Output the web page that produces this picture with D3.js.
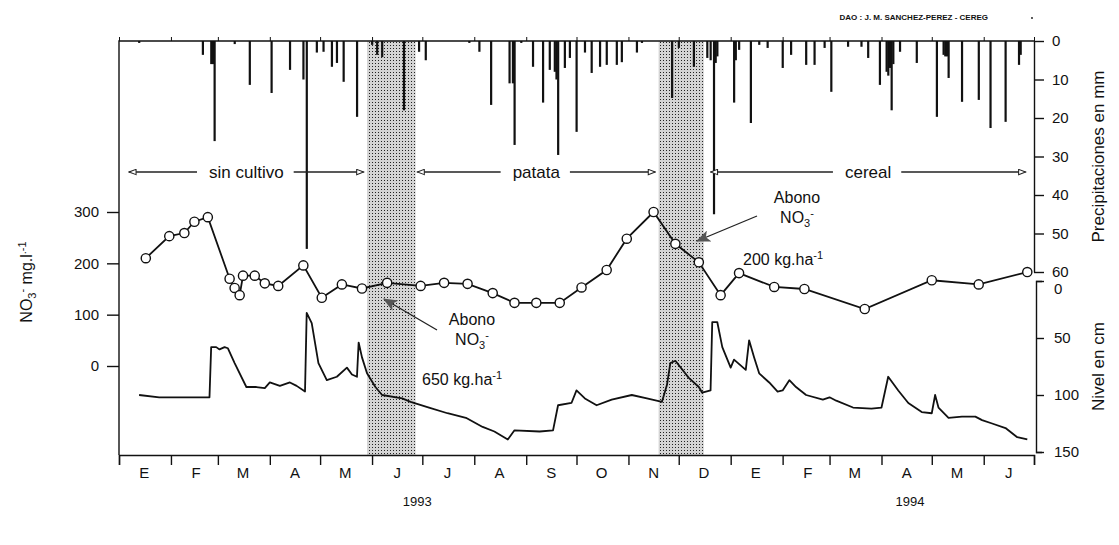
<!DOCTYPE html>
<html>
<head>
<meta charset="utf-8">
<script src="https://cdn.jsdelivr.net/npm/d3@7"></script>
<style>
  body { margin: 0; background: #fff; }
  svg { display: block; }
  text { font-family: "Liberation Sans", Arial, sans-serif; fill: #111; }
</style>
</head>
<body>
<div id="chart"></div>
<script>
// values
const monthLabels = ["E", "F", "M", "A", "M", "J", "J", "A", "S", "O", "N", "D", "E", "F", "M", "A", "M", "J"];
const yearLabels = ["1993", "1994"];

const rainDates = ["1993-01-13", "1993-02-20", "1993-02-25", "1993-02-26", "1993-02-27", "1993-03-11", "1993-03-20",
  "1993-04-02", "1993-04-13", "1993-04-21", "1993-04-23", "1993-04-29", "1993-05-03", "1993-05-08", "1993-05-11",
  "1993-05-15", "1993-05-23", "1993-06-01", "1993-06-04", "1993-06-07", "1993-06-20", "1993-06-29", "1993-07-03",
  "1993-07-29", "1993-08-04", "1993-08-11", "1993-08-22", "1993-08-24", "1993-08-25", "1993-08-29", "1993-09-05",
  "1993-09-11", "1993-09-15", "1993-09-18", "1993-09-19", "1993-09-20", "1993-09-24", "1993-09-27", "1993-10-01",
  "1993-10-06", "1993-10-10", "1993-10-15", "1993-10-19", "1993-10-25", "1993-10-28", "1993-11-06", "1993-11-09",
  "1993-11-27", "1993-12-01", "1993-12-10", "1993-12-18", "1993-12-20", "1993-12-22", "1993-12-23", "1993-12-24",
  "1994-01-03", "1994-01-04", "1994-01-06", "1994-01-13", "1994-01-18", "1994-01-23", "1994-02-01", "1994-02-06",
  "1994-02-15", "1994-02-20", "1994-02-26", "1994-03-02", "1994-03-12", "1994-03-20", "1994-03-24", "1994-03-31",
  "1994-04-04", "1994-04-05", "1994-04-06", "1994-04-07", "1994-04-08", "1994-04-12", "1994-04-22", "1994-05-04",
  "1994-05-08", "1994-05-09", "1994-05-10", "1994-05-11", "1994-05-19", "1994-05-29", "1994-06-05", "1994-06-14",
  "1994-06-22", "1994-06-23"];
const rainMm = [0.5, 3.6, 6, 6, 26, 0.8, 11.4,
  13.5, 7.5, 10, 54, 3, 2.8, 6.7, 5.7,
  10.6, 19.7, 1, 3.6, 4.2, 18, 2.8, 5,
  0.5, 2.8, 16.6, 11, 11, 27, 0.5, 6.7,
  16, 7.5, 8, 10, 29.6, 7, 4.4, 23.6,
  3, 8.3, 6.7, 6.2, 6.2, 5.5, 3, 0.5,
  14.8, 1.8, 6.7, 4.4, 5, 45, 5.7, 4,
  16, 5, 2.3, 21.3, 1, 1.8, 7, 3.6,
  6.2, 6.2, 1.8, 13.2, 1.5, 1.5, 4.4, 11.4,
  8, 9, 7, 18, 6, 2.8, 5.7, 19.7,
  3.6, 4, 4, 9.6, 15.8, 15.3, 22.6, 21,
  6.2, 3.6];

const no3Dates = ["1993-01-17", "1993-01-31", "1993-02-09", "1993-02-15", "1993-02-23", "1993-03-08", "1993-03-11",
  "1993-03-14", "1993-03-16", "1993-03-23", "1993-03-29", "1993-04-06", "1993-04-21", "1993-05-02", "1993-05-14",
  "1993-05-26", "1993-06-10", "1993-06-30", "1993-07-14", "1993-07-28", "1993-08-12", "1993-08-25", "1993-09-07",
  "1993-09-21", "1993-10-04", "1993-10-19", "1993-10-31", "1993-11-16", "1993-11-29", "1993-12-13", "1993-12-26",
  "1994-01-06", "1994-01-27", "1994-02-14", "1994-03-22", "1994-05-01", "1994-05-29", "1994-06-27"];
const no3Values = [210, 253, 259, 281, 290, 170, 152,
  138, 176, 176, 161, 156, 196, 133, 159,
  151, 162, 156, 162, 160, 142, 123, 123,
  123, 153, 187, 248, 300, 238, 202, 138,
  181, 154, 150, 111, 167, 159, 183];

const levelDates = ["1993-01-13", "1993-01-25", "1993-02-24", "1993-02-25", "1993-02-28", "1993-03-02", "1993-03-05",
  "1993-03-07", "1993-03-11", "1993-03-18", "1993-03-24", "1993-03-29", "1993-04-01", "1993-04-07", "1993-04-13",
  "1993-04-17", "1993-04-22", "1993-04-23", "1993-04-26", "1993-04-30", "1993-05-05", "1993-05-11", "1993-05-17",
  "1993-05-20", "1993-05-23", "1993-05-24", "1993-05-26", "1993-05-29", "1993-06-03", "1993-06-07", "1993-06-19",
  "1993-06-24", "1993-07-05", "1993-07-16", "1993-07-27", "1993-08-06", "1993-08-13", "1993-08-21", "1993-08-25",
  "1993-09-09", "1993-09-17", "1993-09-20", "1993-09-28", "1993-10-01", "1993-10-06", "1993-10-13", "1993-10-22",
  "1993-11-03", "1993-11-12", "1993-11-21", "1993-11-24", "1993-11-26", "1993-11-29", "1993-12-07", "1993-12-13",
  "1993-12-15", "1993-12-20", "1993-12-21", "1993-12-24", "1993-12-27", "1994-01-01", "1994-01-03", "1994-01-10",
  "1994-01-12", "1994-01-15", "1994-01-18", "1994-01-24", "1994-01-29", "1994-02-01", "1994-02-05", "1994-02-09",
  "1994-02-15", "1994-02-25", "1994-03-01", "1994-03-05", "1994-03-15", "1994-03-26", "1994-04-01", "1994-04-05",
  "1994-04-11", "1994-04-17", "1994-04-25", "1994-05-01", "1994-05-03", "1994-05-05", "1994-05-11", "1994-05-19",
  "1994-05-27", "1994-05-31", "1994-06-06", "1994-06-14", "1994-06-21", "1994-06-27"];
const levelCm = [100, 102, 102, 58, 58, 60, 58,
  59, 72, 93, 93, 94, 89, 92, 89,
  92, 97, 28, 37, 72, 87, 84, 76,
  82, 84, 54, 67, 81, 93, 100, 103,
  106, 111, 116, 120, 128, 132, 139, 131,
  132, 131, 109, 107, 96, 103, 109, 104,
  100, 103, 106, 91, 72, 70, 85, 93,
  98, 96, 36, 36, 58, 76, 69, 78,
  52, 67, 81, 89, 97, 96, 87, 93,
  100, 104, 102, 105, 111, 112, 111, 84,
  96, 107, 115, 116, 100, 111, 120, 119,
  119, 122, 125, 129, 137, 139];

// fertiliser periods (stippled) and crop periods
const bandStart = ["1993-05-29", "1993-11-19"];
const bandEnd = ["1993-06-27", "1993-12-16"];
const cropNames = ["sin cultivo", "patata", "cereal"];
const cropStart = ["1993-01-07", "1993-06-28", "1993-12-20"];
const cropEnd = ["1993-05-27", "1993-11-17", "1994-06-26"];

const W = 1119, H = 545;
const plotL = 119, plotR = 1034, plotT = 41, plotB = 455;
const parse = d3.timeParse("%Y-%m-%d");

const x = d3.scaleTime()
    .domain([new Date(1993, 0, 1), new Date(1994, 6, 1)])
    .range([plotL, plotR]);
const yRain = d3.scaleLinear().domain([0, 60]).range([plotT, 272]);
const yNo3 = d3.scaleLinear().domain([0, 300]).range([366, 212]);
const yLevel = d3.scaleLinear().domain([0, 150]).range([281, 452]);

const svg = d3.select("#chart")
    .append("svg")
    .attr("width", W)
    .attr("height", H);

svg.append("rect").attr("width", W).attr("height", H).attr("fill", "#fff");

const defs = svg.append("defs");
const pat = defs.append("pattern")
    .attr("id", "stipple")
    .attr("width", 3).attr("height", 3)
    .attr("patternUnits", "userSpaceOnUse");
pat.append("rect").attr("width", 3).attr("height", 3).attr("fill", "#d4d4d4");
pat.append("rect").attr("width", 1).attr("height", 1).attr("fill", "#222");

defs.append("marker")
    .attr("id", "openHead")
    .attr("viewBox", "0 0 10 8")
    .attr("refX", 9).attr("refY", 4)
    .attr("markerWidth", 9).attr("markerHeight", 7)
    .attr("markerUnits", "userSpaceOnUse")
    .attr("orient", "auto")
    .append("path")
    .attr("d", "M1,1L9,4L1,7Z")
    .attr("fill", "#fff")
    .attr("stroke", "#222")
    .attr("stroke-width", 1.2);

defs.append("marker")
    .attr("id", "fillHead")
    .attr("viewBox", "0 0 12 10")
    .attr("refX", 11).attr("refY", 5)
    .attr("markerWidth", 16).attr("markerHeight", 12)
    .attr("markerUnits", "userSpaceOnUse")
    .attr("orient", "auto")
    .append("path")
    .attr("d", "M0,0L12,5L0,10L3,5Z")
    .attr("fill", "#555");

// stippled fertiliser bands
svg.selectAll("rect.band")
    .data(bandStart.map((d, i) => [parse(d), parse(bandEnd[i])]))
    .join("rect")
    .attr("class", "band")
    .attr("x", d => x(d[0]))
    .attr("y", plotT)
    .attr("width", d => x(d[1]) - x(d[0]))
    .attr("height", plotB - plotT)
    .attr("fill", "url(#stipple)");

// rainfall hanging from the top
svg.selectAll("rect.rain")
    .data(rainDates.map((d, i) => ({ date: parse(d), mm: rainMm[i] })))
    .join("rect")
    .attr("class", "rain")
    .attr("x", d => x(d.date) - 1)
    .attr("y", plotT)
    .attr("width", 2.2)
    .attr("height", d => yRain(d.mm) - plotT)
    .attr("fill", "#111");

// frame
svg.append("path")
    .attr("d", `M${plotL},${plotB}V${plotT}H${plotR}`)
    .attr("stroke", "#111").attr("stroke-width", 1.4).attr("fill", "none");

// bottom axis: month ticks, letters in mid-month
const xAxis = d3.axisBottom(x)
    .ticks(d3.timeMonth.every(1))
    .tickSize(10)
    .tickSizeOuter(10)
    .tickFormat("");
svg.append("g")
    .attr("transform", `translate(0,${plotB})`)
    .call(xAxis)
    .call(g => g.selectAll("path, line").attr("stroke", "#111").attr("stroke-width", 1.4));

const monthMids = d3.timeMonth.range(new Date(1993, 0, 1), new Date(1994, 6, 1))
    .map(d => d3.timeDay.offset(d, 15));
svg.selectAll("text.month")
    .data(monthLabels)
    .join("text")
    .attr("class", "month")
    .attr("x", (d, i) => x(monthMids[i]))
    .attr("y", 478)
    .attr("text-anchor", "middle")
    .attr("font-size", 15)
    .text(d => d);

svg.selectAll("text.year")
    .data(yearLabels)
    .join("text")
    .attr("class", "year")
    .attr("x", (d, i) => x(i === 0 ? new Date(1993, 5, 28) : new Date(1994, 3, 18)))
    .attr("y", 506)
    .attr("text-anchor", "middle")
    .attr("font-size", 13)
    .text(d => d);

// small month ticks above the top edge
svg.append("g")
    .attr("transform", `translate(0,${plotT})`)
    .call(d3.axisTop(x).ticks(d3.timeMonth.every(1)).tickSize(4).tickSizeOuter(0).tickFormat(""))
    .call(g => g.select(".domain").remove())
    .call(g => g.selectAll("line").attr("stroke", "#111"));

// left axis NO3
svg.append("g")
    .attr("transform", `translate(${plotL},0)`)
    .call(d3.axisLeft(yNo3).tickValues([0, 100, 200, 300]).tickSize(12).tickPadding(8))
    .call(g => g.select(".domain").remove())
    .call(g => g.selectAll("line").attr("stroke", "#111").attr("stroke-width", 1.4))
    .call(g => g.selectAll("text").attr("font-size", 15).attr("font-family", "Liberation Sans, Arial, sans-serif").attr("fill", "#111"));

// right axis rain
svg.append("g")
    .attr("transform", `translate(${plotR},0)`)
    .call(d3.axisRight(yRain).tickValues(d3.range(0, 61, 10)).tickSize(10).tickSizeOuter(0).tickPadding(8))
    .call(g => g.selectAll("path, line").attr("stroke", "#111").attr("stroke-width", 1.4))
    .call(g => g.selectAll("text").attr("font-size", 15).attr("font-family", "Liberation Sans, Arial, sans-serif").attr("fill", "#111"));

// right axis water level
svg.append("g")
    .attr("transform", `translate(${plotR + 2},0)`)
    .call(d3.axisRight(yLevel).tickValues([0, 50, 100, 150]).tickSize(8).tickSizeOuter(6).tickPadding(10))
    .call(g => g.selectAll("path, line").attr("stroke", "#111").attr("stroke-width", 1.4))
    .call(g => g.selectAll("text").attr("font-size", 15).attr("font-family", "Liberation Sans, Arial, sans-serif").attr("fill", "#111"))
    .call(g => g.selectAll(".tick text").filter(d => d === 0).attr("dy", "0.85em"));

// axis titles
svg.append("text")
    .attr("transform", `translate(1104,${(yRain(0) + yRain(60)) / 2}) rotate(-90)`)
    .attr("text-anchor", "middle")
    .attr("font-size", 17)
    .text("Precipitaciones en mm");
svg.append("text")
    .attr("transform", `translate(1104,${(yLevel(0) + yLevel(150)) / 2}) rotate(-90)`)
    .attr("text-anchor", "middle")
    .attr("font-size", 17)
    .text("Nivel en cm");

const no3Title = svg.append("text")
    .attr("transform", "translate(32,282) rotate(-90)")
    .attr("text-anchor", "middle")
    .attr("font-size", 16);
no3Title.append("tspan").text("NO");
no3Title.append("tspan").attr("font-size", 11).attr("dy", 4).text("3");
no3Title.append("tspan").attr("font-size", 11).attr("dy", -10).text("-");
no3Title.append("tspan").attr("dy", 6).text(" mg.l");
no3Title.append("tspan").attr("font-size", 11).attr("dy", -6).text(".-1");

// water level
const level = levelDates.map((d, i) => ({ date: parse(d), v: levelCm[i] }));
svg.append("path")
    .datum(level)
    .attr("fill", "none")
    .attr("stroke", "#111")
    .attr("stroke-width", 1.8)
    .attr("stroke-linejoin", "round")
    .attr("d", d3.line().x(d => x(d.date)).y(d => yLevel(d.v)));

// NO3 line with open circles
const no3 = no3Dates.map((d, i) => ({ date: parse(d), v: no3Values[i] }));
svg.append("path")
    .datum(no3)
    .attr("fill", "none")
    .attr("stroke", "#111")
    .attr("stroke-width", 1.8)
    .attr("d", d3.line().x(d => x(d.date)).y(d => yNo3(d.v)));
svg.selectAll("circle.no3")
    .data(no3)
    .join("circle")
    .attr("class", "no3")
    .attr("cx", d => x(d.date))
    .attr("cy", d => yNo3(d.v))
    .attr("r", 4.6)
    .attr("fill", "#fff")
    .attr("stroke", "#111")
    .attr("stroke-width", 1.4);

// crop period arrows
const cropY = 172;
cropNames.forEach((name, i) => {
    const x0 = x(parse(cropStart[i])), x1 = x(parse(cropEnd[i]));
    const cx = (x0 + x1) / 2;
    const t = svg.append("text")
        .attr("x", cx).attr("y", cropY + 6)
        .attr("text-anchor", "middle")
        .attr("font-size", 17)
        .text(name);
    const w = t.node().getComputedTextLength();
    svg.append("line")
        .attr("x1", cx - w / 2 - 12).attr("x2", x0)
        .attr("y1", cropY).attr("y2", cropY)
        .attr("stroke", "#222").attr("stroke-width", 1.3)
        .attr("marker-end", "url(#openHead)");
    svg.append("line")
        .attr("x1", cx + w / 2 + 10).attr("x2", x1)
        .attr("y1", cropY).attr("y2", cropY)
        .attr("stroke", "#222").attr("stroke-width", 1.3)
        .attr("marker-end", "url(#openHead)");
});

// fertiliser notes
function note(xc, y0) {
    svg.append("text").attr("x", xc).attr("y", y0).attr("text-anchor", "middle").attr("font-size", 16)
        .text("Abono");
    const n = svg.append("text").attr("x", xc).attr("y", y0 + 20).attr("text-anchor", "middle").attr("font-size", 16);
    n.append("tspan").text("NO");
    n.append("tspan").attr("font-size", 11).attr("dy", 4).text("3");
    n.append("tspan").attr("font-size", 11).attr("dy", -10).text("-");
}
function dose(x0, y0, txt) {
    const t = svg.append("text").attr("x", x0).attr("y", y0).attr("font-size", 16);
    t.append("tspan").text(txt + " kg.ha");
    t.append("tspan").attr("font-size", 11).attr("dy", -6).text("-1");
}
note(472, 325);
dose(422, 385, "650");
svg.append("line")
    .attr("x1", 437).attr("y1", 330).attr("x2", 384).attr("y2", 299)
    .attr("stroke", "#222").attr("stroke-width", 1.3)
    .attr("marker-end", "url(#fillHead)");

note(797, 203);
dose(743, 265, "200");
svg.append("line")
    .attr("x1", 757).attr("y1", 216).attr("x2", 697).attr("y2", 241)
    .attr("stroke", "#222").attr("stroke-width", 1.3)
    .attr("marker-end", "url(#fillHead)");

// credit
svg.append("text")
    .attr("x", 988).attr("y", 20)
    .attr("text-anchor", "end")
    .attr("font-size", 8)
    .attr("font-weight", "bold")
    .text("DAO : J. M. SANCHEZ-PEREZ - CEREG");
svg.append("circle").attr("cx", 1032).attr("cy", 18).attr("r", 0.9).attr("fill", "#111");
</script>
</body>
</html>
